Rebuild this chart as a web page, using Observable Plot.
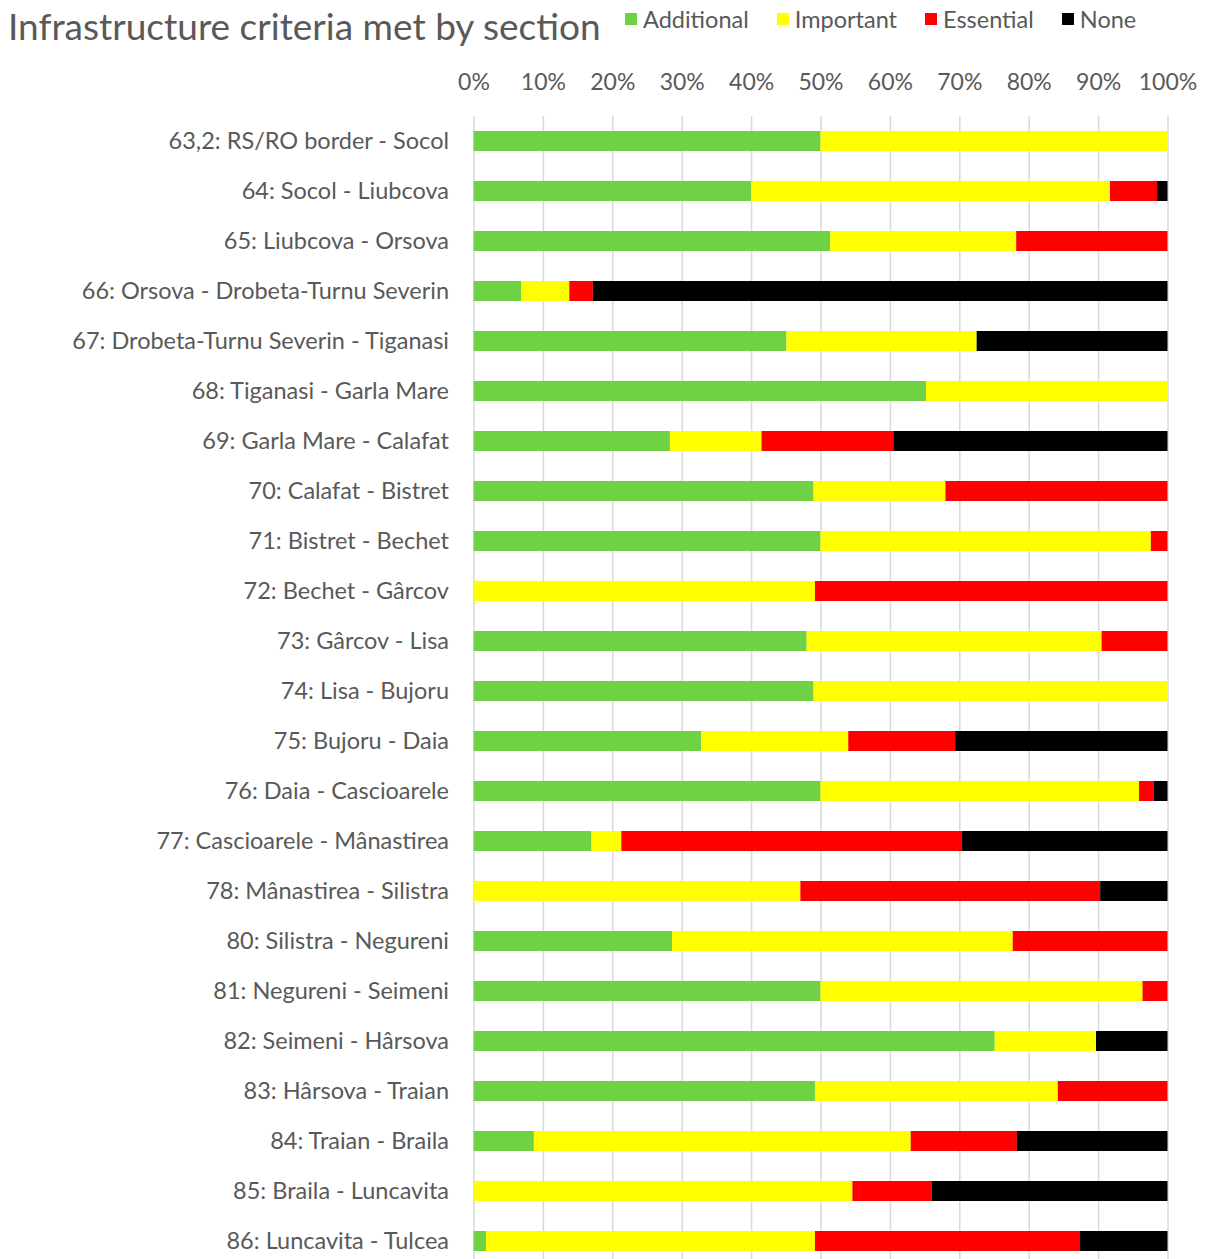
<!DOCTYPE html>
<html>
<head>
<meta charset="utf-8">
<script src="https://cdn.jsdelivr.net/npm/d3@7"></script>
<script src="https://cdn.jsdelivr.net/npm/@observablehq/plot@0.6"></script>
<style>
  html, body { margin: 0; padding: 0; background: #fff; }
  body { width: 1208px; font-family: Lato, "Open Sans", sans-serif; color: #595959; }
  #header { position: relative; height: 55px; }
  #title { position: absolute; left: 8px; top: 3px; font-size: 37px; white-space: nowrap; }
  #legend { position: absolute; left: 625px; top: 5px; display: flex; font-size: 23.5px; white-space: nowrap; }
  .item { display: flex; align-items: center; margin-right: 28px; }
  .sw { width: 12px; height: 12px; margin-right: 6px; }
</style>
</head>
<body>
<div id="header">
  <div id="title">Infrastructure criteria met by section</div>
  <div id="legend"></div>
</div>
<div id="chart"></div>
<script>
const sections = [
  "63,2: RS/RO border - Socol",
  "64: Socol - Liubcova",
  "65: Liubcova - Orsova",
  "66: Orsova - Drobeta-Turnu Severin",
  "67: Drobeta-Turnu Severin - Tiganasi",
  "68: Tiganasi - Garla Mare",
  "69: Garla Mare - Calafat",
  "70: Calafat - Bistret",
  "71: Bistret - Bechet",
  "72: Bechet - Gârcov",
  "73: Gârcov - Lisa",
  "74: Lisa - Bujoru",
  "75: Bujoru - Daia",
  "76: Daia - Cascioarele",
  "77: Cascioarele - Mânastirea",
  "78: Mânastirea - Silistra",
  "80: Silistra - Negureni",
  "81: Negureni - Seimeni",
  "82: Seimeni - Hârsova",
  "83: Hârsova - Traian",
  "84: Traian - Braila",
  "85: Braila - Luncavita",
  "86: Luncavita - Tulcea"
];
const criteria = ["Additional", "Important", "Essential", "None"];
const colors = ["#6fd244", "#ffff00", "#ff0000", "#000000"];

const additional = [50, 40, 51.4, 6.9, 45.1, 65.2, 28.3, 49.0, 50, 0, 48.0, 49.0, 32.8, 50, 17.0, 0, 28.6, 50, 75.1, 49.2, 8.7, 0, 1.8];
const important  = [50, 51.7, 26.8, 6.9, 27.4, 34.8, 13.2, 19.0, 47.6, 49.2, 42.5, 51.0, 21.2, 45.9, 4.3, 47.1, 49.1, 46.4, 14.6, 35.0, 54.3, 54.6, 47.4];
const essential  = [0, 6.8, 21.8, 3.4, 0, 0, 19.0, 32.0, 2.4, 50.8, 9.5, 0, 15.4, 2.1, 49.1, 43.2, 22.3, 3.6, 0, 15.8, 15.3, 11.4, 38.2];
const none       = [0, 1.5, 0, 82.8, 27.5, 0, 39.5, 0, 0, 0, 0, 0, 30.6, 2.0, 29.6, 9.7, 0, 0, 10.3, 0, 21.7, 34.0, 12.6];
const xTicks = [0, 10, 20, 30, 40, 50, 60, 70, 80, 90, 100];

const seriesValues = [additional, important, essential, none];
const data = [];
sections.forEach((s, i) => {
  criteria.forEach((c, j) => {
    data.push({section: s, criterion: c, value: seriesValues[j][i]});
  });
});

// legend
const legend = document.getElementById("legend");
criteria.forEach((c, j) => {
  const it = document.createElement("div");
  it.className = "item";
  it.innerHTML = `<span class="sw" style="background:${colors[j]}"></span><span>${c}</span>`;
  legend.appendChild(it);
});

const chart = Plot.plot({
  width: 1208,
  height: 1211,
  marginTop: 61,
  marginBottom: 0,
  marginLeft: 473.5,
  marginRight: 40.5,
  style: {fontFamily: "Lato, 'Open Sans', sans-serif", color: "#595959", background: "#fff"},
  x: {domain: [0, 100], ticks: xTicks, tickFormat: d => d + "%", label: null},
  y: {type: "band", domain: sections, paddingInner: 0.6, paddingOuter: 0.3, label: null},
  color: {domain: criteria, range: colors},
  marks: [
    Plot.gridX(xTicks, {stroke: "#d9d9d9", strokeOpacity: 1, strokeWidth: 1.5}),
    Plot.barX(data, {x: "value", y: "section", fill: "criterion", order: criteria}),
    Plot.axisX(xTicks, {anchor: "top", tickSize: 0, tickPadding: 27, fontSize: 23, fill: "#595959", tickFormat: d => d + "%", label: null}),
    Plot.axisY({anchor: "left", tickSize: 0, tickPadding: 25, fontSize: 23.5, fill: "#595959", label: null})
  ]
});
document.getElementById("chart").appendChild(chart);
</script>
</body>
</html>
